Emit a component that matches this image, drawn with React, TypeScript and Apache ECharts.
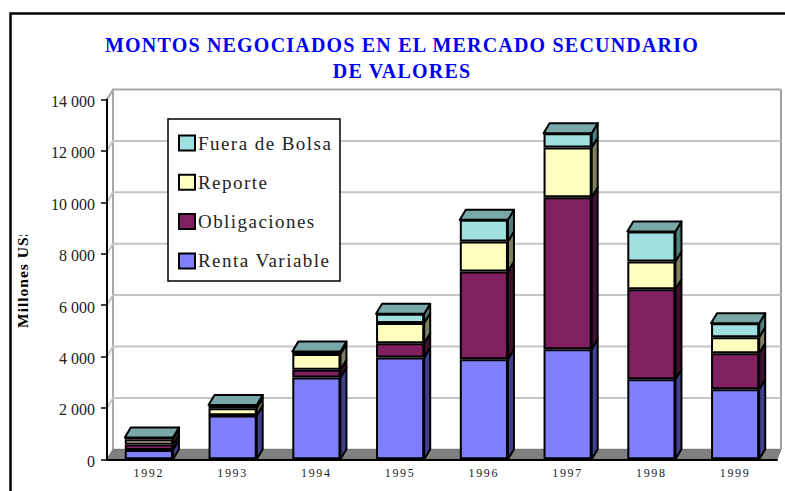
import React, { useEffect, useRef } from "react";
import * as echarts from "echarts";

const years = ["1992", "1993", "1994", "1995", "1996", "1997", "1998", "1999"];
const rentaVariable = [360, 1700, 3180, 3960, 3890, 4280, 3115, 2725];
const obligaciones = [220, 10, 300, 560, 3415, 5920, 3505, 1400];
const reporte = [190, 275, 620, 780, 1170, 1930, 1075, 625];
const fueraDeBolsa = [80, 130, 90, 360, 845, 560, 1170, 545];
const yTicks = [0, 2000, 4000, 6000, 8000, 10000, 12000, 14000];

const seriesNames = ["Renta Variable", "Obligaciones", "Reporte", "Fuera de Bolsa"];
const seriesValues = [rentaVariable, obligaciones, reporte, fueraDeBolsa];
const frontColors = ["#8080ff", "#802060", "#ffffc0", "#a0e0e0"];
const sideColors = ["#404090", "#401030", "#808060", "#508080"];
const topColor = "#78a8a8";
const FONT = "'Liberation Serif', 'Times New Roman', serif";
const DX = 6;
const DY = 10;
const DX_RIGHT = 4;
const BAR_RATIO = 0.575;

const depthData: number[][] = [];
years.forEach((_, i) => {
  let base = 0;
  seriesValues.forEach((vals, s) => {
    depthData.push([i, base, base + vals[i], s]);
    base += vals[i];
  });
});

function renderWall(params: any, api: any) {
  const cs = params.coordSys;
  const v = api.value(0);
  const y = api.coord([0, v])[1];
  const x0 = cs.x;
  const xr = cs.x + cs.width;
  const children: any[] = [];
  if (v === 0) {
    children.push({
      type: "polygon",
      shape: { points: [[x0, y], [xr, y], [xr + DX_RIGHT, y - DY], [x0 + DX, y - DY]] },
      style: { fill: "#808080", stroke: "#707070", lineWidth: 1 },
    });
    children.push({
      type: "line",
      shape: { x1: x0 + DX, y1: y - DY, x2: x0 + DX, y2: cs.y - DY },
      style: { stroke: "#a8a8a8", lineWidth: 2 },
    });
    children.push({
      type: "line",
      shape: { x1: xr + DX_RIGHT, y1: y - DY, x2: xr + DX_RIGHT, y2: cs.y - DY },
      style: { stroke: "#a0a0a0", lineWidth: 2 },
    });
  } else {
    children.push({
      type: "polyline",
      shape: { points: [[x0, y], [x0 + DX, y - DY], [xr + DX_RIGHT, y - DY]] },
      style: { fill: "none", stroke: v === 14000 ? "#a8a8a8" : "#c4c4c4", lineWidth: 2 },
    });
  }
  return { type: "group", children };
}

function renderDepth(_params: any, api: any) {
  const i = api.value(0);
  const base = api.value(1);
  const top = api.value(2);
  const s = api.value(3);
  const cx = api.coord([i, base])[0];
  const yBase = api.coord([i, base])[1];
  const yTop = api.coord([i, top])[1];
  const half = (api.size([1, 0])[0] * BAR_RATIO) / 2;
  const x1 = cx - half;
  const x2 = cx + half;
  const children: any[] = [
    {
      type: "polygon",
      shape: { points: [[x2, yBase], [x2, yTop], [x2 + DX, yTop - DY], [x2 + DX, yBase - DY]] },
      style: { fill: sideColors[s], stroke: "#000", lineWidth: 2, lineJoin: "round" },
    },
  ];
  if (s === seriesValues.length - 1) {
    children.push({
      type: "polygon",
      shape: { points: [[x1, yTop], [x2, yTop], [x2 + DX, yTop - DY], [x1 + DX, yTop - DY]] },
      style: { fill: topColor, stroke: "#000", lineWidth: 2, lineJoin: "round" },
    });
  }
  return { type: "group", children };
}

export default function App() {
  const ref = useRef<HTMLDivElement>(null);
  useEffect(() => {
    document.body.style.margin = "0";
    const chart = echarts.init(ref.current!, null, { renderer: "svg" });
    chart.setOption({
      animation: false,
      backgroundColor: "#ffffff",
      title: {
        text: "MONTOS NEGOCIADOS EN EL MERCADO SECUNDARIO\nDE VALORES",
        left: 397,
        top: 27,
        textAlign: "center",
        textStyle: { fontFamily: FONT, fontSize: 20, fontWeight: "bold", color: "#0000f0", lineHeight: 26 },
      },
      grid: { left: 107, right: 8, top: 99.5, bottom: 31.7 },
      legend: {
        orient: "vertical",
        left: 168,
        top: 119,
        data: [...seriesNames].reverse(),
        icon: "rect",
        itemWidth: 16,
        itemHeight: 15,
        itemGap: 20.3,
        padding: [14.5, 28, 10.5, 10],
        backgroundColor: "#ffffff",
        borderColor: "#000000",
        borderWidth: 1.5,
        selectedMode: false,
        z: 8,
        textStyle: { fontFamily: FONT, fontSize: 19, color: "#222222", padding: [0, 0, 0, -2] },
      },
      xAxis: {
        type: "category",
        data: years,
        z: 5,
        axisLine: { lineStyle: { color: "#000", width: 2 } },
        axisTick: { length: 5, lineStyle: { color: "#000", width: 1.5 } },
        axisLabel: { fontFamily: FONT, fontSize: 12, color: "#222222", margin: 8 },
      },
      yAxis: {
        type: "value",
        min: 0,
        max: 14000,
        interval: 2000,
        z: 5,
        splitLine: { show: false },
        axisLine: { show: true, lineStyle: { color: "#000", width: 2 } },
        axisTick: { show: true, length: 6, lineStyle: { color: "#000", width: 1.5 } },
        axisLabel: {
          fontFamily: FONT,
          fontSize: 16,
          color: "#222222",
          margin: 12,
          formatter: (v: number) => "{t|" + String(v).replace(/\B(?=(\d{3})+$)/g, " ") + "}",
          rich: {
            t: { fontFamily: FONT, fontSize: 16, color: "#222222", padding: [4, 0, 0, 0] },
          },
        },
      },
      graphic: [
        {
          type: "polyline",
          z: 10,
          shape: { points: [[10.5, 491], [10.5, 13.5], [785, 13.5]] },
          style: { fill: "none", stroke: "#000", lineWidth: 2.5 },
        },
        {
          type: "text",
          z: 10,
          x: 22,
          y: 328,
          rotation: Math.PI / 2,
          style: {
            text: "Millones US$",
            fontFamily: FONT,
            fontSize: 15.5,
            fontWeight: "bold",
            fill: "#000",
            align: "left",
            verticalAlign: "middle",
          },
        },
        { type: "rect", z: 11, shape: { x: 14, y: 205, width: 20, height: 30 }, style: { fill: "#fff" } },
      ],
      series: [
        {
          type: "custom",
          name: "walls",
          z: 1,
          silent: true,
          coordinateSystem: "cartesian2d",
          renderItem: renderWall,
          encode: { y: 0 },
          data: yTicks.map((v) => [v]),
        },
        {
          type: "custom",
          name: "depth",
          z: 2,
          silent: true,
          coordinateSystem: "cartesian2d",
          renderItem: renderDepth,
          encode: { x: 0, y: [1, 2] },
          data: depthData,
        },
        ...seriesNames.map((name, s) => ({
          type: "bar",
          name,
          stack: "total",
          z: 3,
          barWidth: `${BAR_RATIO * 100}%`,
          data: seriesValues[s],
          itemStyle: { color: frontColors[s], borderColor: "#000", borderWidth: 2 },
        })),
      ],
    });
    const spacing = (t: string) => {
      if (t.startsWith("MONTOS") || t === "DE VALORES") return "1.2px";
      if (seriesNames.includes(t)) return "1.45px";
      if (years.includes(t)) return "1.7px";
      if (t === "Millones US$") return "1px";
      return "";
    };
    ref.current!.querySelectorAll("text").forEach((el) => {
      const s = spacing(el.textContent || "");
      if (s) (el as any).style.letterSpacing = s;
    });
    return () => chart.dispose();
  }, []);
  return <div ref={ref} style={{ width: 785, height: 491 }} />;
}
